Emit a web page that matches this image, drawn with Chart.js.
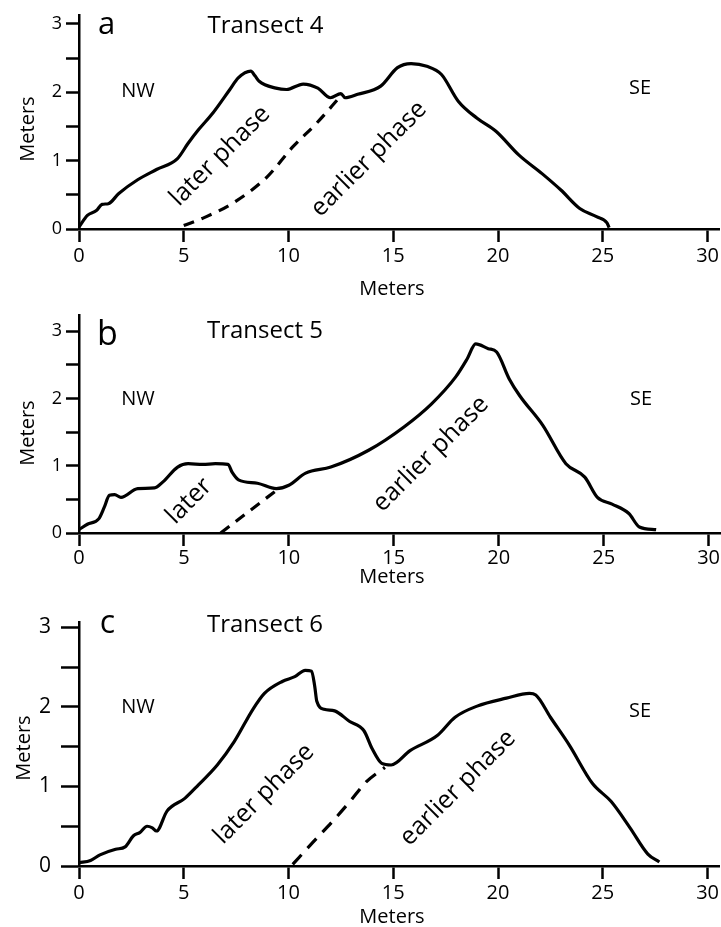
<!DOCTYPE html>
<html lang="en">
<head>
<meta charset="UTF-8">
<title>Transect profiles 4-6</title>
<script src="https://cdn.jsdelivr.net/npm/chart.js"></script>
<style>
  body { margin: 0; background: #fff; }
  .panel { position: absolute; left: 0; width: 721px; }
  canvas { display: block; }
</style>
</head>
<body>
<div class="panel" style="top:0;height:300px"><canvas id="t4" width="721" height="300"></canvas></div>
<div class="panel" style="top:300px;height:300px"><canvas id="t5" width="721" height="300"></canvas></div>
<div class="panel" style="top:600px;height:327px"><canvas id="t6" width="721" height="327"></canvas></div>
<script>
const xTicks = [0, 5, 10, 15, 20, 25, 30];
const yTicks = [0, 0.5, 1, 1.5, 2, 2.5, 3];

// Transect 4: dune surface and the buried boundary between phases
const t4SurfaceX = [0, 0.4, 0.83, 1.1, 1.4, 1.9, 2.8, 3.7, 4.7, 5.2, 5.7, 6.4, 7.2, 7.6, 8.2, 8.4, 8.6, 9.4, 9.9, 10.7, 11.4, 12.0, 12.5, 12.7, 13.3, 14.4, 15.2, 15.85, 16.6, 17.3, 18.1, 19.0, 19.9, 21.0, 22.1, 23.0, 23.9, 24.7, 25.2, 25.3];
const t4SurfaceY = [0.03, 0.2, 0.27, 0.36, 0.37, 0.52, 0.72, 0.87, 1.03, 1.25, 1.45, 1.7, 2.04, 2.21, 2.31, 2.24, 2.16, 2.06, 2.04, 2.12, 2.06, 1.92, 1.98, 1.92, 1.97, 2.09, 2.36, 2.42, 2.38, 2.26, 1.87, 1.62, 1.43, 1.08, 0.81, 0.57, 0.30, 0.18, 0.09, 0.02];
const t4BoundaryX = [5.0, 6.0, 7.35, 8.97, 10.2, 11.35, 12.45];
const t4BoundaryY = [0.05, 0.17, 0.38, 0.76, 1.2, 1.55, 1.93];

// Transect 5
const t5SurfaceX = [0, 0.4, 0.94, 1.2, 1.45, 1.7, 2.0, 2.8, 3.6, 4.0, 4.7, 5.2, 5.9, 6.5, 7.1, 7.3, 7.6, 8.5, 9.4, 10.0, 10.8, 12.0, 13.8, 15.5, 16.8, 17.95, 18.5, 18.9, 19.5, 19.9, 20.5, 21.0, 22.1, 23.2, 24.1, 24.7, 25.4, 26.2, 26.7, 27.5];
const t5SurfaceY = [0.05, 0.13, 0.21, 0.38, 0.56, 0.57, 0.53, 0.66, 0.67, 0.76, 0.98, 1.03, 1.02, 1.03, 1.02, 0.9, 0.79, 0.74, 0.66, 0.71, 0.89, 0.98, 1.23, 1.58, 1.92, 2.32, 2.59, 2.81, 2.74, 2.69, 2.29, 2.04, 1.6, 1.03, 0.83, 0.53, 0.43, 0.29, 0.09, 0.05];
const t5BoundaryX = [6.75, 9.6];
const t5BoundaryY = [0.0, 0.68];

// Transect 6
const t6SurfaceX = [0, 0.55, 1.0, 1.75, 2.2, 2.6, 2.9, 3.25, 3.5, 3.7, 4.2, 5.05, 5.7, 6.6, 7.4, 8.3, 8.85, 9.7, 10.3, 10.8, 11.1, 11.25, 11.35, 11.7, 12.2, 12.9, 13.6, 14.0, 14.45, 14.9, 15.8, 17.1, 17.95, 19.0, 20.4, 21.5, 21.8, 22.5, 23.4, 24.5, 25.4, 26.3, 27.15, 27.7];
const t6SurfaceY = [0.04, 0.07, 0.14, 0.21, 0.24, 0.38, 0.42, 0.5, 0.48, 0.44, 0.69, 0.85, 1.02, 1.27, 1.56, 1.97, 2.17, 2.32, 2.38, 2.46, 2.45, 2.26, 2.07, 1.97, 1.95, 1.82, 1.7, 1.47, 1.29, 1.27, 1.45, 1.64, 1.87, 2.01, 2.11, 2.17, 2.15, 1.87, 1.52, 1.04, 0.81, 0.48, 0.15, 0.05];
const t6BoundaryX = [10.2, 11.17, 12.13, 12.93, 13.72, 14.6];
const t6BoundaryY = [0.02, 0.3, 0.57, 0.81, 1.06, 1.24];

const FONT = '"Open Sans", "Liberation Sans", sans-serif';
Chart.defaults.font.family = FONT;
Chart.defaults.color = '#000';

function toPoints(xs, ys) {
    return xs.map((x, i) => ({ x: x, y: ys[i] }));
}

// writes the panel letter, titles and the phase labels onto the canvas
function textLayer(items) {
    return {
        id: 'panelText',
        afterDraw(chart) {
            const ctx = chart.ctx;
            items.forEach(it => {
                ctx.save();
                ctx.translate(it.x, it.y);
                if (it.angle) ctx.rotate(it.angle * Math.PI / 180);
                ctx.font = it.size + 'px ' + FONT;
                ctx.fillStyle = '#000';
                ctx.textAlign = 'center';
                ctx.textBaseline = it.baseline || 'alphabetic';
                ctx.fillText(it.text, 0, 0);
                ctx.restore();
            });
        }
    };
}

function drawTransect(id, surfX, surfY, edgeX, edgeY, p) {
    new Chart(document.getElementById(id), {
        type: 'line',
        data: {
            datasets: [
                {
                    data: toPoints(surfX, surfY),
                    borderColor: '#000',
                    borderWidth: 3.2,
                    pointRadius: 0,
                    cubicInterpolationMode: 'monotone',
                    fill: false
                },
                {
                    data: toPoints(edgeX, edgeY),
                    borderColor: '#000',
                    borderWidth: 3.2,
                    borderDash: p.dash,
                    pointRadius: 0,
                    cubicInterpolationMode: 'monotone',
                    fill: false
                }
            ]
        },
        options: {
            responsive: false,
            animation: false,
            events: [],
            layout: { padding: { top: p.top, left: 0, right: 0, bottom: 0 } },
            plugins: { legend: { display: false }, tooltip: { enabled: false } },
            scales: {
                x: {
                    type: 'linear',
                    min: 0,
                    max: 30.59,
                    afterBuildTicks: s => { s.ticks = xTicks.map(v => ({ value: v })); },
                    afterFit: s => { s.height = p.xHeight; },
                    grid: { drawOnChartArea: false, tickLength: 13, tickWidth: 2.5, tickColor: '#000' },
                    border: { color: '#000', width: 2.5 },
                    ticks: { font: { size: 20 }, color: '#000', padding: p.xPad, maxRotation: 0, autoSkip: false }
                },
                y: {
                    type: 'linear',
                    min: 0,
                    max: p.yMax,
                    afterBuildTicks: s => { s.ticks = yTicks.map(v => ({ value: v })); },
                    afterFit: s => { s.width = 79; },
                    grid: { drawOnChartArea: false, tickLength: p.yTickLen, tickWidth: 2.5, tickColor: '#000' },
                    border: { color: '#000', width: 2.5 },
                    ticks: {
                        font: { size: p.ySize },
                        color: '#000',
                        padding: p.yPad,
                        autoSkip: false,
                        callback: v => Number.isInteger(v) ? String(v) : ''
                    }
                }
            }
        },
        plugins: [textLayer(p.labels)]
    });
}

drawTransect('t4', t4SurfaceX, t4SurfaceY, t4BoundaryX, t4BoundaryY, {
    top: 15, xHeight: 71, yMax: 3.13, xPad: 2, yTickLen: 13, ySize: 18, yPad: 4, dash: [11, 8],
    labels: [
        { text: 'a', x: 106.5, y: 34, size: 31 },
        { text: 'Transect 4', x: 265.5, y: 33, size: 24 },
        { text: 'NW', x: 138, y: 97, size: 20 },
        { text: 'SE', x: 640, y: 94, size: 20 },
        { text: 'Meters', x: 34, y: 129, size: 20, angle: -90 },
        { text: 'Meters', x: 392, y: 295, size: 20 },
        { text: 'later phase', x: 220, y: 156, size: 25, angle: -45, baseline: 'middle' },
        { text: 'earlier phase', x: 369, y: 159, size: 25, angle: -45, baseline: 'middle' }
    ]
});

drawTransect('t5', t5SurfaceX, t5SurfaceY, t5BoundaryX, t5BoundaryY, {
    top: 15, xHeight: 67, yMax: 3.24, xPad: 0, yTickLen: 13, ySize: 18, yPad: 4, dash: [11, 8],
    labels: [
        { text: 'b', x: 107.5, y: 45, size: 34 },
        { text: 'Transect 5', x: 265, y: 38, size: 24 },
        { text: 'NW', x: 138, y: 105, size: 20 },
        { text: 'SE', x: 641, y: 105, size: 20 },
        { text: 'Meters', x: 34, y: 133, size: 20, angle: -90 },
        { text: 'Meters', x: 392, y: 283, size: 20 },
        { text: 'later', x: 189, y: 201, size: 25, angle: -45, baseline: 'middle' },
        { text: 'earlier phase', x: 431, y: 154, size: 25, angle: -45, baseline: 'middle' }
    ]
});

drawTransect('t6', t6SurfaceX, t6SurfaceY, t6BoundaryX, t6BoundaryY, {
    top: 17, xHeight: 61, yMax: 3.06, xPad: 2, yTickLen: 18, ySize: 21, yPad: 10, dash: [13, 9],
    labels: [
        { text: 'c', x: 107.5, y: 33, size: 32 },
        { text: 'Transect 6', x: 265, y: 32, size: 24 },
        { text: 'NW', x: 138, y: 113, size: 20 },
        { text: 'SE', x: 640, y: 117, size: 20 },
        { text: 'Meters', x: 30, y: 148, size: 20, angle: -90 },
        { text: 'Meters', x: 392, y: 323, size: 20 },
        { text: 'later phase', x: 264, y: 194, size: 25, angle: -45, baseline: 'middle' },
        { text: 'earlier phase', x: 458, y: 188, size: 25, angle: -45, baseline: 'middle' }
    ]
});
</script>
</body>
</html>
